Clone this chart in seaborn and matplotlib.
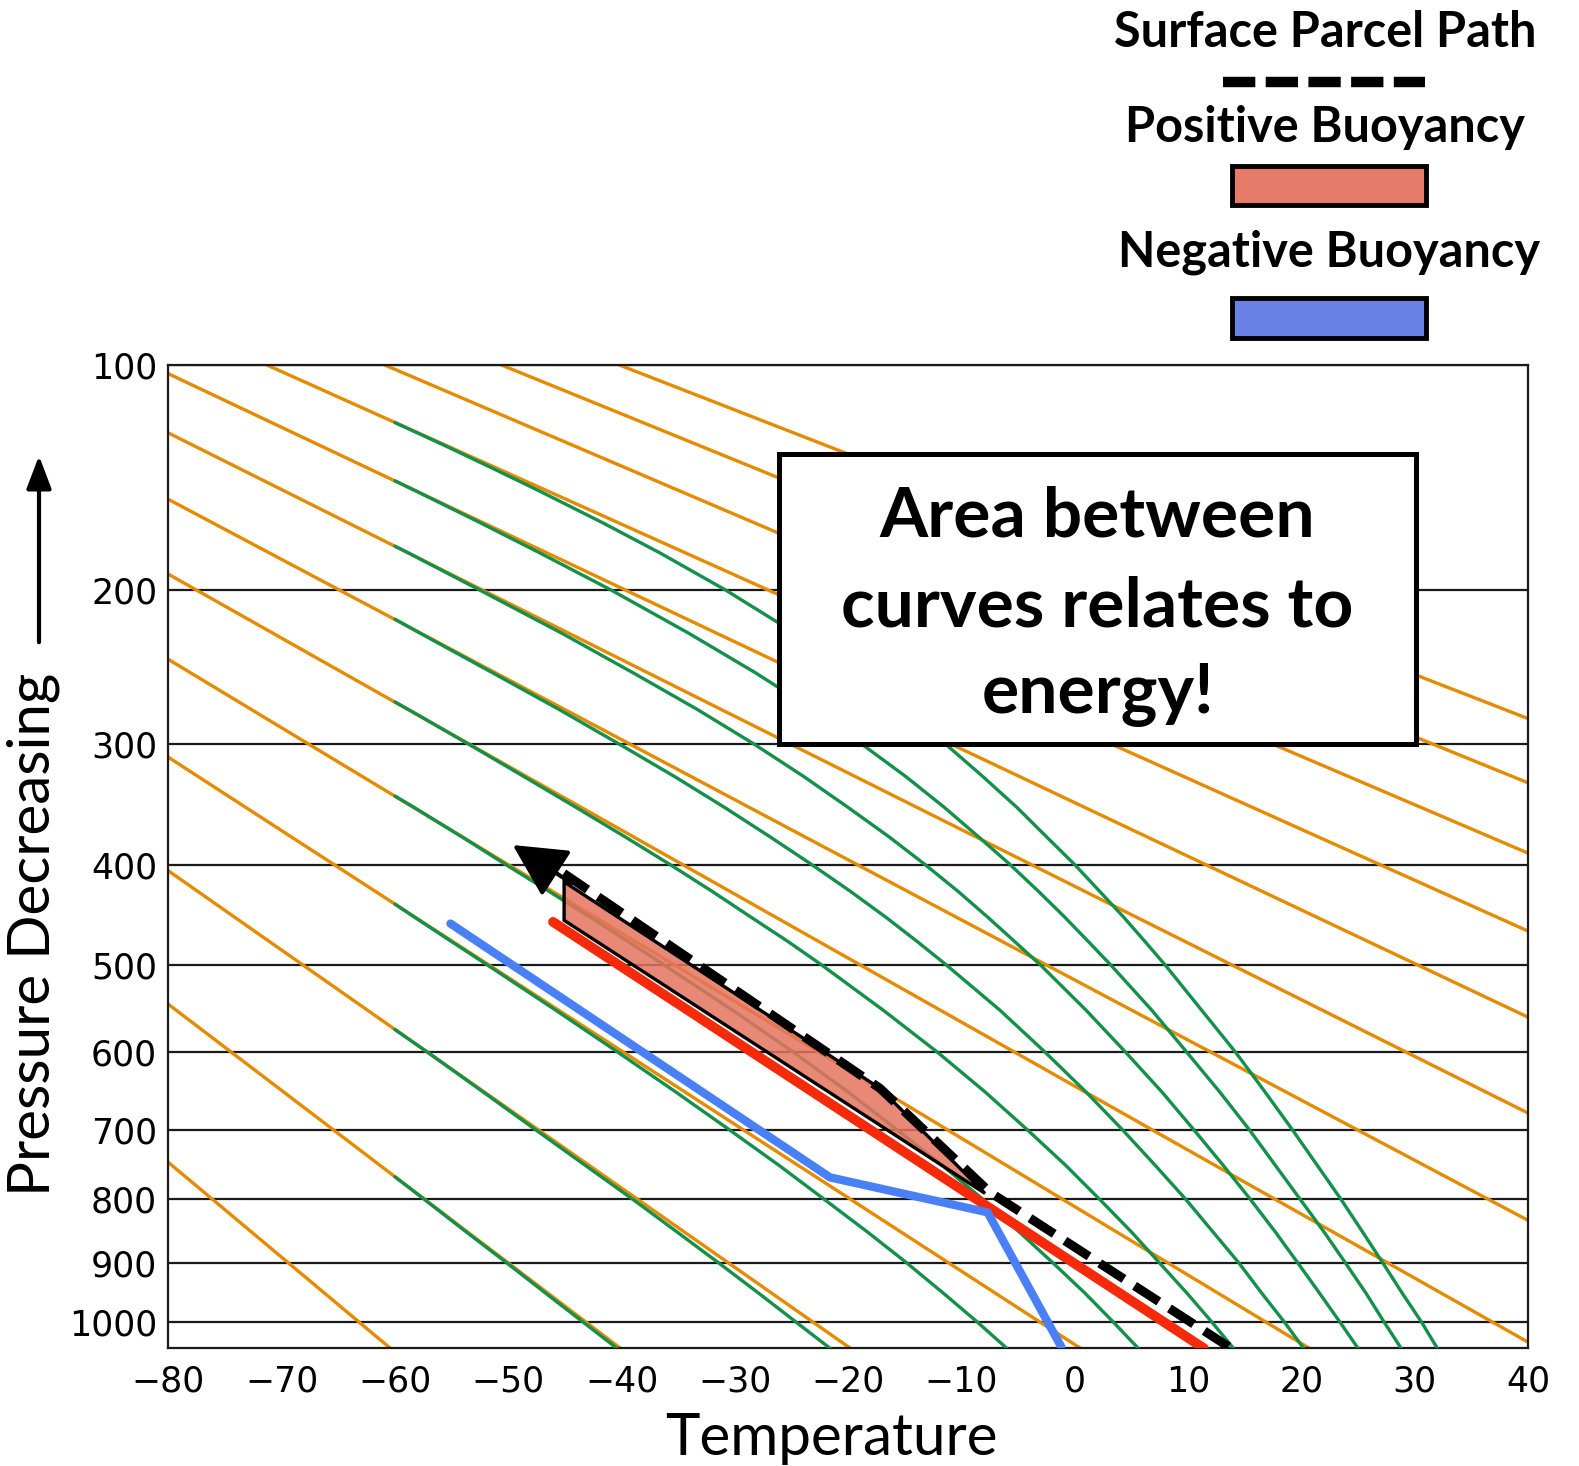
# skew_energy_diagram.py
# parcel path vs environment on a thermo diagram

import numpy as np
import pandas as pd
import matplotlib
matplotlib.use("Agg")
import matplotlib.pyplot as plt
from matplotlib.patches import Rectangle, Polygon, FancyArrowPatch
from matplotlib.lines import Line2D
import seaborn as sns

sns.set_style("white")
plt.rcParams["font.family"] = ["Lato", "DejaVu Sans"]
plt.rcParams["text.color"] = "black"
plt.rcParams["xtick.color"] = "black"
plt.rcParams["ytick.color"] = "black"


# --------------------------------------------------
# data (temperature in C, pressure in hPa)
# --------------------------------------------------
t_ticks = [-80, -70, -60, -50, -40, -30, -20, -10, 0, 10, 20, 30, 40]
t_grid = [-60, -40, -20, 0, 20]
p_ticks = [100, 200, 300, 400, 500, 600, 700, 800, 900, 1000]
p_top, p_bottom = 100, 1047

# dry adiabats (orange), start and end of each line
dry_t0 = [-80, -80, -80, -80, -80, -80, -80, -80, -80, -71.3, -60.9, -50.6, -40.2]
dry_p0 = [745.7, 543.1, 405.6, 309.9, 241.4, 191.2, 153.7, 125.1, 103.0, 100, 100, 100, 100]
dry_t1 = [-60.4, -40.1, -19.8, 0.5, 20.7, 40, 40, 40, 40, 40, 40, 40, 40]
dry_p1 = [1047, 1047, 1047, 1047, 1047, 1035.8, 831.9, 677.6, 558.0, 464.2, 389.5, 329.9, 281.4]

# moist adiabats (green): each starts at -60 C, then follows the last levels
moist_levels = [110, 120, 130, 140, 150, 165, 180, 200, 225, 250, 275, 300, 325, 350, 375, 400,
                425, 450, 475, 500, 550, 600, 650, 700, 750, 800, 850, 900, 950, 1000, 1047]
moist_start_p = [766.5, 572.5, 437.3, 340.6, 269.7, 216.7, 176.5, 145.3, 121.0]
moist_230 = [-57.4, -53.7, -50.1, -46.7, -43.4, -40.4]
moist_250 = [-57.1, -52.2, -47.6, -43.2, -39.0, -35.1, -31.4, -27.9, -24.6, -21.6]
moist_270 = [-58.3, -55.0, -51.8, -45.8, -40.3, -35.2, -30.5, -26.1, -22.1, -18.3, -14.8, -11.6,
             -8.6, -6.0]
moist_290 = [-58.3, -54.1, -50.2, -46.4, -42.8, -39.4, -36.2, -30.2, -24.8, -20.0, -15.7, -11.7,
             -8.1, -4.9, -1.9, 0.9, 3.4, 5.6]
moist_310 = [-58.8, -53.5, -48.6, -44.0, -39.7, -35.7, -32.0, -28.6, -25.3, -22.3, -16.9, -12.1,
             -7.9, -4.2, -0.8, 2.2, 5.0, 7.5, 9.9, 12.1, 14.0]
moist_330 = [-57.8, -51.4, -45.5, -40.2, -35.3, -30.9, -26.9, -23.2, -19.8, -16.7, -13.9, -11.3,
             -6.6, -2.6, 1.0, 4.2, 7.1, 9.8, 12.2, 14.5, 16.5, 18.5, 20.2]
moist_350 = [-58.8, -52.5, -45.3, -39.0, -33.3, -28.3, -23.9, -20.0, -16.4, -13.2, -10.3, -7.7,
             -5.3, -3.0, 1.0, 4.5, 7.7, 10.5, 13.1, 15.5, 17.7, 19.7, 21.6, 23.4, 25.0]
moist_370 = [-58.1, -52.4, -47.2, -40.9, -34.1, -28.2, -23.1, -18.8, -14.9, -11.5, -8.5, -5.7,
             -3.2, -0.9, 1.2, 3.2, 6.8, 9.9, 12.8, 15.4, 17.7, 19.9, 22.0, 23.9, 25.7, 27.3, 28.8]
moist_390 = [-55.7, -51.3, -47.2, -41.6, -36.6, -30.8, -24.7, -19.6, -15.2, -11.4, -8.1, -5.1,
             -2.5, 0.0, 2.2, 4.3, 6.2, 8.0, 11.2, 14.2, 16.8, 19.2, 21.4, 23.5, 25.4, 27.2, 28.9,
             30.6, 32.0]
moist_lines = [moist_230, moist_250, moist_270, moist_290, moist_310,
               moist_330, moist_350, moist_370, moist_390]

# soundings
env_t = [-55.1, -21.6, -7.7, -1.2]
env_p = [456.6, 767.4, 819.6, 1044]
red_t = [-46.05, 11.4]
red_p = [454.9, 1047]
parcel_t = [13.57, -7.48, -17.18, -45.78]
parcel_p = [1044, 789.4, 645.3, 403.2]
arrow_tail = (-44.4, 417.2)
arrow_tip = (-49.6, 382.3)
pos_t = [-45.07, -45.07, -7.92, -17.18]
pos_p = [416, 453.3, 791, 645.3]


# --------------------------------------------------
# long tables for seaborn
# --------------------------------------------------
dry = pd.DataFrame({
    "T": [v for pair in zip(dry_t0, dry_t1) for v in pair],
    "p": [v for pair in zip(dry_p0, dry_p1) for v in pair],
    "line": np.repeat(np.arange(len(dry_t0)), 2),
})

moist_rows = []
for i, temps in enumerate(moist_lines):
    moist_rows.append((-60.0, moist_start_p[i], i))
    for t, p in zip(temps, moist_levels[-len(temps):]):
        moist_rows.append((t, p, i))
moist = pd.DataFrame(moist_rows, columns=["T", "p", "line"])


# --------------------------------------------------
# plot
# --------------------------------------------------
fig = plt.figure(figsize=(15.79, 14.66), dpi=100)
ax = fig.add_axes([0.10659, 0.08029, 0.86112, 0.67074])
ax.set_yscale("function", functions=(lambda p: np.power(np.clip(p, 1e-9, None), 0.286),
                                     lambda y: np.power(np.clip(y, 1e-9, None), 1 / 0.286)))
ax.set_xlim(-80, 40)
ax.set_ylim(p_bottom, p_top)

sns.lineplot(data=dry, x="T", y="p", units="line", estimator=None, sort=False,
             color="#e68a00", lw=2.4, ax=ax, zorder=2)
sns.lineplot(data=moist, x="T", y="p", units="line", estimator=None, sort=False,
             color="#13904a", lw=2.4, ax=ax, zorder=3)

ax.add_patch(Polygon(list(zip(pos_t, pos_p)), closed=True, facecolor="#e5735f", alpha=0.85,
                     edgecolor="none", zorder=4))
ax.add_patch(Polygon(list(zip(pos_t, pos_p)), closed=True, facecolor="none",
                     edgecolor="black", lw=2.4, zorder=6))
sns.lineplot(x=red_t, y=red_p, sort=False, color="#f42a0a", lw=7, ax=ax, zorder=5)
sns.lineplot(x=env_t, y=env_p, sort=False, color="#4a80f5", lw=6, ax=ax, zorder=5)
sns.lineplot(x=parcel_t, y=parcel_p, sort=False, color="black", lw=6.5, ax=ax, zorder=7,
             linestyle=(0, (3.2, 1.4)))
ax.annotate("", xy=arrow_tip, xytext=arrow_tail,
            arrowprops=dict(arrowstyle="-|>,head_length=3.3,head_width=1.7", color="black",
                            lw=3, shrinkA=0, shrinkB=0), zorder=8)

ax.set_xticks(t_ticks)
ax.set_xticklabels([str(v).replace("-", "\u2212") for v in t_ticks])
ax.set_xticks(t_grid, minor=True)
ax.set_yticks(p_ticks)
ax.set_yticklabels([str(v) for v in p_ticks])
ax.yaxis.set_minor_locator(matplotlib.ticker.NullLocator())
ax.tick_params(which="both", length=0)
ax.tick_params(axis="x", pad=12, labelsize=25)
ax.tick_params(axis="y", pad=8, labelsize=25)
for lab in ax.get_xticklabels() + ax.get_yticklabels():
    lab.set_family("DejaVu Sans")
ax.grid(False)
ax.grid(True, which="minor", axis="x", color="#1a1a1a", lw=1.6, zorder=1)
ax.grid(True, which="major", axis="y", color="#1a1a1a", lw=1.6, zorder=1)
ax.set_axisbelow(True)
for s in ax.spines.values():
    s.set_color("#1a1a1a")
    s.set_linewidth(1.6)
ax.set_xlabel("")
ax.set_ylabel("")


# --------------------------------------------------
# labels, note box, legend (figure pixels)
# --------------------------------------------------
W, H = 1579, 1466
def fx(x): return x / W
def fy(y): return 1 - y / H

fig.text(fx(831), fy(1455), "Temperature", fontsize=42, ha="center", va="baseline")
fig.text(fx(33), fy(934), "Pressure Decreasing", fontsize=42, ha="center", va="center", rotation=90)
fig.add_artist(FancyArrowPatch((fx(39), fy(645)), (fx(39), fy(453)),
               transform=fig.transFigure, arrowstyle="-|>,head_length=1.0,head_width=0.38",
               mutation_scale=20, color="black", lw=3))

fig.add_artist(Rectangle((fx(779), fy(744)), fx(1416) - fx(779), fy(454) - fy(744),
                         transform=fig.transFigure, facecolor="white", edgecolor="black",
                         lw=3.6, zorder=10))
for txt, yb in [("Area between", 536.7), ("curves relates to", 626.7), ("energy!", 713.3)]:
    fig.text(fx(1097.5), fy(yb), txt, fontsize=50, fontweight="bold", ha="center",
             va="baseline", zorder=11)

fig.text(fx(1325), fy(46.7), "Surface Parcel Path", fontsize=35, fontweight="bold",
         ha="center", va="baseline")
fig.add_artist(Line2D([fx(1223), fx(1425)], [fy(81.7), fy(81.7)], transform=fig.transFigure,
                      color="black", lw=7.5, linestyle=(0, (3.1, 1.0))))
fig.text(fx(1325), fy(141.7), "Positive Buoyancy", fontsize=35, fontweight="bold",
         ha="center", va="baseline")
fig.add_artist(Rectangle((fx(1232), fy(205)), fx(1426) - fx(1232), fy(166) - fy(205),
                         transform=fig.transFigure, facecolor="#e77b6a", edgecolor="black", lw=3.5))
fig.text(fx(1329), fy(266.7), "Negative Buoyancy", fontsize=35, fontweight="bold",
         ha="center", va="baseline")
fig.add_artist(Rectangle((fx(1232), fy(338)), fx(1426) - fx(1232), fy(298) - fy(338),
                         transform=fig.transFigure, facecolor="#6a82e5", edgecolor="black", lw=3.5))

fig.savefig("out.png", dpi=100)
print("diagram saved to out.png")
